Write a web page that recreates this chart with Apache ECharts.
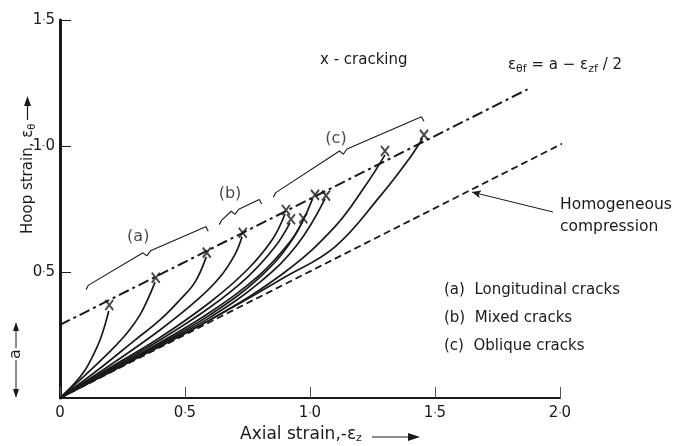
<!DOCTYPE html>
<html><head><meta charset="utf-8">
<script src="https://cdn.jsdelivr.net/npm/echarts@6/dist/echarts.min.js"></script>
<style>html,body{margin:0;background:#fff}#c{width:676px;height:446px}</style>
</head><body><div id="c"></div><script>
// ---- data (chart units) ----
const xTickLabels = ['0', '0{d|·}5', '1{d|·}0', '1{d|·}5', '2{d|·}0'];
const yTickLabels = ['', '0{d|·}5', '1{d|·}0', '1{d|·}5'];
const crackLimitLine = [[0, 0.29], [1.87, 1.225]];      // eps_theta_f = a - eps_zf/2
const homogeneousLine = [[0, 0], [2.03, 1.02]];
const crackPoints = [[0.197, 0.369], [0.383, 0.477], [0.587, 0.577], [0.731, 0.656],
  [0.904, 0.746], [0.924, 0.709], [0.973, 0.713], [1.02, 0.806], [1.064, 0.803],
  [1.30, 0.98], [1.456, 1.044]];
const curve1 = [[0, 0], [0.06, 0.06], [0.1, 0.11], [0.133, 0.17], [0.16, 0.23], [0.18, 0.29], [0.195, 0.345]];
const curve2 = [[0, 0], [0.1, 0.09], [0.2, 0.185], [0.27, 0.26], [0.32, 0.33], [0.355, 0.4], [0.38, 0.46]];
const curve3 = [[0, 0], [0.15, 0.11], [0.3, 0.23], [0.4, 0.31], [0.48, 0.39], [0.54, 0.46], [0.585, 0.56]];
const curve4 = [[0, 0], [0.2, 0.13], [0.4, 0.27], [0.55, 0.39], [0.64, 0.48], [0.7, 0.57], [0.728, 0.64]];
const curve5 = [[0, 0], [0.2, 0.12], [0.4, 0.24], [0.6, 0.38], [0.75, 0.51], [0.85, 0.63], [0.9, 0.73]];
const curve6 = [[0, 0], [0.2, 0.115], [0.4, 0.23], [0.6, 0.36], [0.75, 0.48], [0.86, 0.6], [0.92, 0.695]];
const curve7 = [[0, 0], [0.2, 0.11], [0.4, 0.22], [0.6, 0.34], [0.8, 0.49], [0.92, 0.62], [0.97, 0.7]];
const curve8 = [[0, 0], [0.2, 0.11], [0.4, 0.215], [0.6, 0.33], [0.8, 0.48], [0.93, 0.63], [1.01, 0.79]];
const curve9 = [[0, 0], [0.2, 0.105], [0.4, 0.21], [0.6, 0.32], [0.8, 0.46], [0.95, 0.61], [1.06, 0.79]];
const curve10 = [[0, 0], [0.3, 0.155], [0.6, 0.31], [0.9, 0.5], [1.1, 0.68], [1.22, 0.84], [1.3, 0.965]];
const curve11 = [[0, 0], [0.3, 0.155], [0.6, 0.31], [0.9, 0.48], [1.1, 0.6], [1.28, 0.8], [1.39, 0.94], [1.45, 1.03]];
const curves = [curve1, curve2, curve3, curve4, curve5, curve6, curve7, curve8, curve9, curve10, curve11];
// braces: [start, cusp, end]
const braceA = [[0.104, 0.448], [0.347, 0.58], [0.593, 0.68]];
const braceB = [[0.637, 0.706], [0.70, 0.745], [0.807, 0.788]];
const braceC = [[0.853, 0.815], [1.133, 0.984], [1.456, 1.116]];
const braceLabels = [['(a)', 0.313, 0.64], ['(b)', 0.68, 0.81], ['(c)', 1.104, 1.03]];
const leader = [[1.972, 0.738], [1.648, 0.817]];
const legendLines = ['(a)  Longitudinal cracks', '(b)  Mixed cracks', '(c)  Oblique cracks'];

const FONT = 'DejaVu Sans';
const INK = '#1a1a1a';

function bracePath(b) {
  const [s, c, e] = b;
  const h = 0.018;
  return [[s[0], s[1] - h], [s[0] + 0.01, s[1]], [c[0] - 0.015, c[1] - 0.004],
    [c[0], c[1] - h * 0.9], [c[0] + 0.015, c[1] + 0.004], [e[0] - 0.01, e[1]], [e[0], e[1] - h]];
}

const series = [];
curves.forEach((d, i) => series.push({
  name: 'curve' + (i + 1), type: 'line', data: d, smooth: 0.4, showSymbol: false, symbol: 'none',
  lineStyle: { color: INK, width: 1.7 }, silent: true, z: 3
}));
series.push({
  name: 'limit', type: 'line', data: crackLimitLine, symbol: 'none',
  lineStyle: { color: INK, width: 2, type: [11, 4, 3, 4] }, z: 2
});
series.push({
  name: 'homogeneous', type: 'line', data: homogeneousLine, symbol: 'none',
  lineStyle: { color: INK, width: 1.8, type: [7, 4] }, z: 2,
  markLine: {
    silent: true, symbol: ['none', 'arrow'], symbolSize: [6, 9],
    label: { show: false },
    lineStyle: { color: INK, width: 1, type: 'solid' },
    data: [[{ coord: leader[0] }, { coord: leader[1] }]]
  }
});
[braceA, braceB, braceC].forEach((b, i) => series.push({
  name: 'brace' + i, type: 'line', data: bracePath(b), symbol: 'none', smooth: false,
  lineStyle: { color: INK, width: 1.1 }, z: 2
}));
series.push({
  name: 'cracks', type: 'scatter', data: crackPoints,
  symbol: 'path://M0,0L10,10M10,0L0,10', symbolSize: [8, 10],
  itemStyle: { color: 'rgba(0,0,0,0)', borderColor: INK, borderWidth: 2 }, z: 5
});
series.push({
  name: 'braceLabels', type: 'scatter', symbolSize: 0,
  data: braceLabels.map(l => ({ value: [l[1], l[2]], name: l[0] })),
  label: { show: true, position: 'inside', formatter: p => p.name, fontFamily: FONT, fontSize: 16, color: INK }
});

const dotRich = { d: { fontSize: 10, fontFamily: FONT, color: INK, padding: [0, 0, 0, 0] } };
const option = {
  backgroundColor: '#fff',
  animation: false,
  grid: { left: 60, top: 20, width: 500, height: 378, containLabel: false },
  xAxis: {
    type: 'value', min: 0, max: 2, interval: 0.5,
    axisLine: { show: true, lineStyle: { color: INK, width: 2 } },
    axisTick: { show: true, inside: true, length: 11, lineStyle: { color: '#555', width: 1 } },
    axisLabel: { formatter: (v) => xTickLabels[Math.round(v / 0.5)], fontFamily: FONT, fontSize: 15, color: INK, margin: 8, rich: dotRich },
    splitLine: { show: false }
  },
  yAxis: {
    type: 'value', min: 0, max: 1.5, interval: 0.5,
    axisLine: { show: true, lineStyle: { color: INK, width: 3 } },
    axisTick: { show: true, inside: true, length: 11, lineStyle: { color: INK, width: 1 } },
    axisLabel: { formatter: (v) => yTickLabels[Math.round(v / 0.5)], fontFamily: FONT, fontSize: 15, color: INK, margin: 5, rich: dotRich },
    splitLine: { show: false }
  },
  graphic: [
    { type: 'text', left: 320, top: 53, style: { text: 'x - cracking', font: '15px ' + FONT, fill: INK } },
    { type: 'text', left: 508, top: 58, style: {
      text: 'ε{s|θf} = a − ε{s|zf} / 2', font: '15px ' + FONT, fill: INK,
      rich: { s: { fontSize: 11, fontFamily: FONT, verticalAlign: 'bottom', padding: [8, 0, 0, 0], fill: INK } } } },
    { type: 'text', left: 560, top: 194, style: { text: 'Homogeneous\ncompression', font: '15.5px ' + FONT, fill: INK, lineHeight: 22 } },
    { type: 'text', left: 444, top: 283, style: { text: legendLines[0], font: '15px ' + FONT, fill: INK } },
    { type: 'text', left: 444, top: 311, style: { text: legendLines[1], font: '15px ' + FONT, fill: INK } },
    { type: 'text', left: 444, top: 339, style: { text: legendLines[2], font: '15px ' + FONT, fill: INK } },
    { type: 'text', left: 240, top: 426, style: {
      text: 'Axial strain,-ε{s|z}', font: '17px ' + FONT, fill: INK,
      rich: { s: { fontSize: 11, fontFamily: FONT, padding: [7, 0, 0, 0], fill: INK } } } },
    { type: 'line', shape: { x1: 372, y1: 437, x2: 412, y2: 437 }, style: { stroke: INK, lineWidth: 1.2 } },
    { type: 'polygon', shape: { points: [[420, 437], [408, 433], [408, 441]] }, style: { fill: INK } },
    { type: 'text', x: 20, y: 234, rotation: Math.PI / 2, style: {
      text: 'Hoop strain, ε{s|θ}', font: '15px ' + FONT, fill: INK,
      rich: { s: { fontSize: 10, fontFamily: FONT, padding: [7, 0, 0, 0], fill: INK } } } },
    { type: 'line', shape: { x1: 27.5, y1: 120, x2: 27.5, y2: 104 }, style: { stroke: INK, lineWidth: 1.2 } },
    { type: 'polygon', shape: { points: [[27.5, 96], [24, 106], [31, 106]] }, style: { fill: INK } },
    { type: 'line', shape: { x1: 16, y1: 326, x2: 16, y2: 396 }, style: { stroke: INK, lineWidth: 1 } },
    { type: 'polygon', shape: { points: [[16, 322], [13, 331], [19, 331]] }, style: { fill: INK } },
    { type: 'polygon', shape: { points: [[16, 398], [13, 389], [19, 389]] }, style: { fill: INK } },
    { type: 'text', x: 16, y: 354, rotation: Math.PI / 2, style: { text: 'a', font: '16px ' + FONT, fill: INK, backgroundColor: '#fff', align: 'center', verticalAlign: 'middle', padding: [1, 1] } }
  ],
  series
};
const chart = echarts.init(document.getElementById('c'), null, { renderer: 'canvas' });
chart.setOption(option);
</script></body></html>
